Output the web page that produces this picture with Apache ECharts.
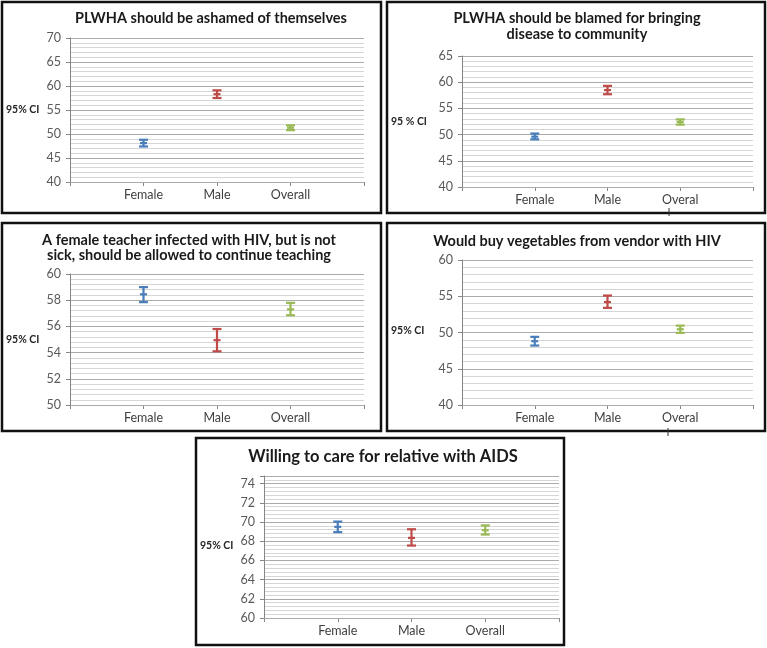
<!DOCTYPE html>
<html>
<head>
<meta charset="utf-8">
<script src="https://cdn.jsdelivr.net/npm/echarts@6/dist/echarts.min.js"></script>
<style>
html,body{margin:0;padding:0;background:#fff;}
#chart{width:767px;height:648px;}
</style>
</head>
<body>
<div id="chart"></div>
<script>
// ---- data ----
const categories = ['Female', 'Male', 'Overall'];
const categoriesShort = ['Female', 'Male', 'Overal'];
const barColors = ['#4A7EBB', '#BE4B48', '#98B954'];

const title1 = 'PLWHA should be ashamed of themselves';
const p1Lower = [47.4, 57.5, 50.8];
const p1Mean  = [48.1, 58.3, 51.3];
const p1Upper = [48.8, 59.1, 51.8];

const title2 = 'PLWHA should be blamed for bringing\ndisease to community';
const p2Lower = [49.1, 57.7, 51.9];
const p2Mean  = [49.6, 58.5, 52.4];
const p2Upper = [50.2, 59.3, 52.9];

const title3 = 'A female teacher infected with HIV, but is not\nsick, should be allowed to continue teaching';
const p3Lower = [57.85, 54.1, 56.85];
const p3Mean  = [58.45, 54.95, 57.3];
const p3Upper = [59.0, 55.8, 57.8];

const title4 = 'Would buy vegetables from vendor with HIV';
const p4Lower = [48.2, 53.4, 49.95];
const p4Mean  = [48.8, 54.2, 50.45];
const p4Upper = [49.4, 55.1, 50.95];

const title5 = 'Willing to care for relative with AIDS';
const p5Lower = [68.95, 67.55, 68.7];
const p5Mean  = [69.5, 68.35, 69.15];
const p5Upper = [70.05, 69.25, 69.65];

const yLabelText1 = '95% CI';
const yLabelText2 = '95 % CI';

// ---- layout ----
const FONT = 'Lato, "Liberation Sans", sans-serif';
const panels = [
  {title: title1, cats: categories, lo: p1Lower, mid: p1Mean, hi: p1Upper,
   ymin: 40, ymax: 70, major: 5, minor: 1,
   grid: {left: 70, top: 38, width: 294, height: 144},
   box: [2, 2, 379, 211], titleX: 211, titleY: 18, tsize: 14.5, lh: 16,
   ylab: yLabelText1, ylabX: 6, ylabY: 110},
  {title: title2, cats: categoriesShort, lo: p2Lower, mid: p2Mean, hi: p2Upper,
   ymin: 40, ymax: 65, major: 5, minor: 1,
   grid: {left: 462, top: 56, width: 291, height: 131},
   box: [387, 2, 378, 211], titleX: 577, titleY: 26, tsize: 14.5, lh: 16,
   ylab: yLabelText2, ylabX: 391, ylabY: 122},
  {title: title3, cats: categories, lo: p3Lower, mid: p3Mean, hi: p3Upper,
   ymin: 50, ymax: 60, major: 2, minor: 0.4,
   grid: {left: 70, top: 274, width: 294, height: 131},
   box: [2, 223, 379, 208], titleX: 189, titleY: 248, tsize: 14.5, lh: 15,
   ylab: yLabelText1, ylabX: 6, ylabY: 340},
  {title: title4, cats: categoriesShort, lo: p4Lower, mid: p4Mean, hi: p4Upper,
   ymin: 40, ymax: 60, major: 5, minor: 1,
   grid: {left: 462, top: 260, width: 291, height: 145},
   box: [387, 223, 378, 208], titleX: 577, titleY: 241, tsize: 14.5, lh: 16,
   ylab: yLabelText1, ylabX: 391, ylabY: 331},
  {title: title5, cats: categories, lo: p5Lower, mid: p5Mean, hi: p5Upper,
   ymin: 60, ymax: 74.8, major: 2, minor: 0.4,
   grid: {left: 264, top: 476, width: 295, height: 142},
   box: [196, 438, 368, 207], titleX: 383, titleY: 457, tsize: 16.5, lh: 18,
   ylab: yLabelText1, ylabX: 200, ylabY: 546}
];

const grids = [], xAxes = [], yAxes = [], series = [], graphics = [];

panels.forEach((p, k) => {
  grids.push(Object.assign({outerBoundsMode: 'none', containLabel: false}, p.grid));
  xAxes.push({
    type: 'category', gridIndex: k, boundaryGap: false,
    data: [''].concat(p.cats).concat(['']),
    axisLine: {lineStyle: {color: '#868686', width: 1}},
    axisTick: {show: true, length: 4, interval: 0, lineStyle: {color: '#868686'}},
    axisLabel: {interval: 0, color: '#404040', fontFamily: FONT, fontSize: 12.5, margin: 6}
  });
  const major = p.major;
  yAxes.push({
    type: 'value', gridIndex: k, min: p.ymin, max: p.ymax, interval: major, z: 1,
    axisLine: {show: true, lineStyle: {color: '#868686', width: 1}},
    axisTick: {show: true, length: 4, lineStyle: {color: '#868686'}},
    axisLabel: {color: '#595959', fontFamily: FONT, fontSize: 12.5, margin: 9,
      formatter: v => (Math.abs(v / major - Math.round(v / major)) < 1e-6 ? String(Math.round(v)) : '')},
    splitLine: {show: true, lineStyle: {color: '#ababab', width: 1}}
  });
  yAxes.push({
    type: 'value', gridIndex: k, min: p.ymin, max: p.ymax, interval: p.minor, z: 0,
    position: 'left',
    axisLine: {show: false}, axisTick: {show: false}, axisLabel: {show: false},
    splitLine: {show: true, lineStyle: {color: '#d6d6d6', width: 1}}
  });
  const data = p.cats.map((c, i) => ({
    value: [i + 1, p.lo[i], p.mid[i], p.hi[i]],
    itemStyle: {color: barColors[i]}
  }));
  series.push({
    type: 'custom', xAxisIndex: k, yAxisIndex: 2 * k, z: 3,
    encode: {x: 0, y: [1, 2, 3]},
    data: data,
    renderItem: function (params, api) {
      const x = api.value(0);
      const lo = api.coord([x, api.value(1)]);
      const md = api.coord([x, api.value(2)]);
      const hi = api.coord([x, api.value(3)]);
      const color = api.visual('color');
      const st = {stroke: color, lineWidth: 2.2};
      const w = 4.5, wm = 3.5;
      return {type: 'group', children: [
        {type: 'line', shape: {x1: hi[0], y1: hi[1], x2: lo[0], y2: lo[1]}, style: st},
        {type: 'line', shape: {x1: hi[0] - w, y1: hi[1], x2: hi[0] + w, y2: hi[1]}, style: st},
        {type: 'line', shape: {x1: lo[0] - w, y1: lo[1], x2: lo[0] + w, y2: lo[1]}, style: st},
        {type: 'line', shape: {x1: md[0] - wm, y1: md[1], x2: md[0] + wm, y2: md[1]}, style: st}
      ]};
    }
  });
  graphics.push({
    type: 'rect', shape: {x: p.box[0], y: p.box[1], width: p.box[2], height: p.box[3]},
    style: {fill: 'none', stroke: '#111', lineWidth: 2.5}, z: 10
  });
  graphics.push({
    type: 'text', x: p.titleX, y: p.titleY, z: 10,
    style: {text: p.title, font: 'bold ' + p.tsize + 'px ' + FONT, fill: '#1a1a1a',
            align: 'center', verticalAlign: 'middle', lineHeight: p.lh}
  });
  graphics.push({
    type: 'text', x: p.ylabX, y: p.ylabY, z: 10,
    style: {text: p.ylab, font: 'bold 10.5px ' + FONT, fill: '#262626',
            align: 'left', verticalAlign: 'middle'}
  });
});

// small stray tick marks below "Overal" in the right-hand panels
graphics.push({type: 'line', shape: {x1: 669, y1: 208, x2: 669, y2: 216}, style: {stroke: '#333', lineWidth: 1}, z: 11});
graphics.push({type: 'line', shape: {x1: 668, y1: 428, x2: 668, y2: 436}, style: {stroke: '#333', lineWidth: 1}, z: 11});

const chart = echarts.init(document.getElementById('chart'), null, {renderer: 'canvas'});
chart.setOption({
  animation: false,
  backgroundColor: '#fff',
  grid: grids,
  xAxis: xAxes,
  yAxis: yAxes,
  series: series,
  graphic: graphics
});
</script>
</body>
</html>
